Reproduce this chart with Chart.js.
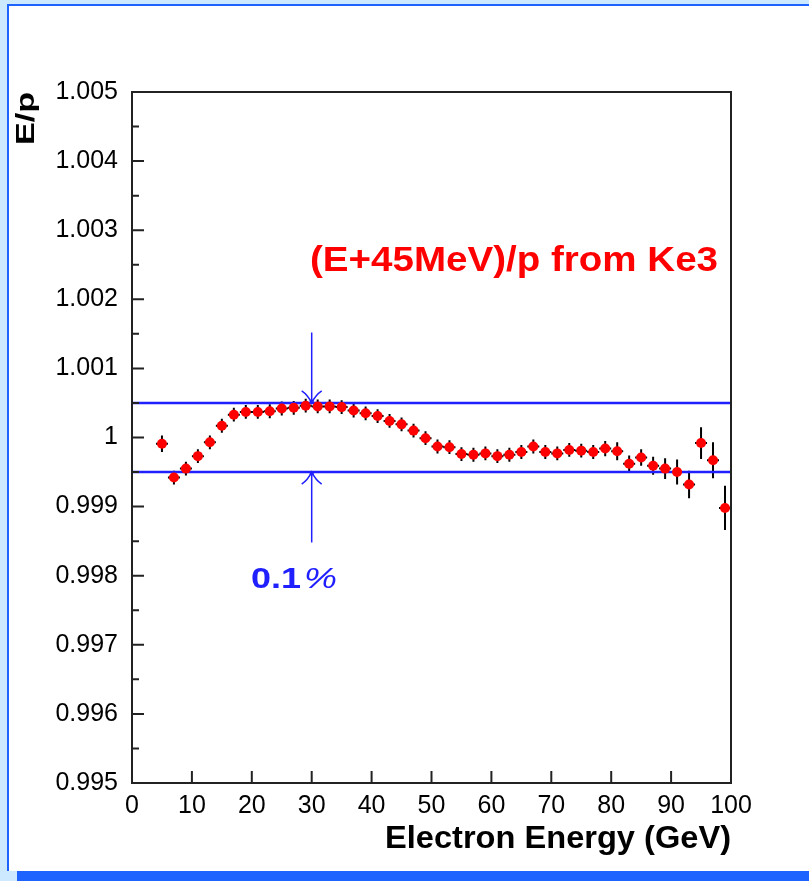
<!DOCTYPE html>
<html>
<head>
<meta charset="utf-8">
<title>E/p vs Electron Energy</title>
<script src="https://cdn.jsdelivr.net/npm/chart.js@4.4.1/dist/chart.umd.min.js"></script>
<style>
  body { margin: 0; background: #cde9ff; width: 809px; height: 881px; overflow: hidden; position: relative; }
  #panel { position: absolute; left: 7px; top: 4px; width: 802px; height: 867px; background: #fff;
           border-left: 2px solid #1f63ff; border-top: 2px solid #1f63ff; box-sizing: border-box; }
  #bar { position: absolute; left: 17px; top: 871px; right: 0; height: 10px; background: #1f63ff; }
  canvas { position: absolute; left: 0; top: 0; }
</style>
</head>
<body>
<div id="panel"></div>
<div id="bar"></div>
<canvas id="epChart" width="809" height="881"></canvas>
<script>
// electron energy bin centres (GeV), bins are 2 GeV wide
const energy = [5, 7, 9, 11, 13, 15, 17, 19, 21, 23, 25, 27, 29, 31, 33, 35, 37, 39, 41, 43,
                45, 47, 49, 51, 53, 55, 57, 59, 61, 63, 65, 67, 69, 71, 73, 75, 77, 79, 81, 83,
                85, 87, 89, 91, 93, 95, 97, 99];
const binHalf = 1;

// (E+45MeV)/p values
const ratio = [0.99991, 0.99942, 0.99955, 0.99973, 0.99993, 1.00017, 1.00033, 1.00037, 1.00037, 1.00038,
               1.00042, 1.00043, 1.00046, 1.00045, 1.00045, 1.00044, 1.00039, 1.00035, 1.00031, 1.00024,
               1.00019, 1.00010, 0.99999, 0.99987, 0.99986, 0.99976, 0.99975, 0.99977, 0.99973, 0.99975,
               0.99979, 0.99987, 0.99979, 0.99977, 0.99982, 0.99981, 0.99979, 0.99984, 0.99980, 0.99962,
               0.99971, 0.99959, 0.99955, 0.99950, 0.99932, 0.99992, 0.99967, 0.99898];

// vertical error on each point
const ratioErr = [0.00012, 0.0001, 0.0001, 0.0001, 0.0001, 0.0001, 0.0001, 0.0001, 0.0001, 0.0001,
                  0.0001, 0.0001, 0.0001, 0.0001, 0.0001, 0.0001, 0.0001, 0.0001, 0.0001, 0.0001,
                  0.0001, 0.0001, 0.0001, 0.0001, 0.0001, 0.0001, 0.0001, 0.0001, 0.0001, 0.0001,
                  0.0001, 0.0001, 0.0001, 0.0001, 0.0001, 0.0001, 0.0001, 0.00011, 0.00013, 0.00012,
                  0.00012, 0.00013, 0.00015, 0.00018, 0.0002, 0.00023, 0.00026, 0.00032];

// +-0.05% band and the arrows marking it
const bandHigh = 1.0005;
const bandLow = 0.9995;
const arrowX = 30;
const arrowTop = 1.00152;
const arrowBottom = 0.99848;

const xTicks = [0, 10, 20, 30, 40, 50, 60, 70, 80, 90, 100];
const yMin = 0.995, yMax = 1.005;

const blue = '#2020ff';
const red = '#ff0000';

// draw text squeezed/stretched to a given width (ROOT fonts are wider than Arial)
function fitText(ctx, text, x, y, font, width, color) {
    ctx.save();
    ctx.font = font;
    ctx.fillStyle = color;
    ctx.textBaseline = 'alphabetic';
    ctx.textAlign = 'left';
    const w = ctx.measureText(text).width;
    ctx.translate(x, y);
    ctx.scale(width / w, 1);
    ctx.fillText(text, 0, 0);
    ctx.restore();
}

const errorBars = {
    id: 'errorBars',
    beforeDatasetsDraw(chart) {
        const { ctx, scales: { x, y } } = chart;
        ctx.save();
        ctx.strokeStyle = '#000';
        ctx.lineWidth = 2;
        ctx.beginPath();
        for (let i = 0; i < energy.length; i++) {
            const px = x.getPixelForValue(energy[i]);
            const py = y.getPixelForValue(ratio[i]);
            ctx.moveTo(px, y.getPixelForValue(ratio[i] + ratioErr[i]));
            ctx.lineTo(px, y.getPixelForValue(ratio[i] - ratioErr[i]));
            ctx.moveTo(x.getPixelForValue(energy[i] - binHalf), py);
            ctx.lineTo(x.getPixelForValue(energy[i] + binHalf), py);
        }
        ctx.stroke();
        ctx.restore();
    }
};

const rootFrame = {
    id: 'rootFrame',
    afterDraw(chart) {
        const { ctx, chartArea: a, scales: { x, y } } = chart;
        ctx.save();

        // frame
        ctx.strokeStyle = '#222';
        ctx.lineWidth = 2;
        ctx.strokeRect(a.left, a.top, a.right - a.left, a.bottom - a.top);

        // inward ticks, major every 0.001 and a minor one between
        ctx.beginPath();
        for (let k = 1; k < 20; k++) {
            const v = yMin + k * 0.0005;
            const py = y.getPixelForValue(v);
            ctx.moveTo(a.left, py);
            ctx.lineTo(a.left + (k % 2 === 0 ? 12 : 7), py);
        }
        xTicks.slice(1, -1).forEach(t => {
            const px = x.getPixelForValue(t);
            ctx.moveTo(px, a.bottom);
            ctx.lineTo(px, a.bottom - 12);
        });
        ctx.stroke();

        // arrows at 30 GeV pointing at the band
        const ax = x.getPixelForValue(arrowX);
        const hi = y.getPixelForValue(bandHigh);
        const lo = y.getPixelForValue(bandLow);
        ctx.strokeStyle = blue;
        ctx.lineWidth = 1.5;
        ctx.beginPath();
        ctx.moveTo(ax, y.getPixelForValue(arrowTop));
        ctx.lineTo(ax, hi);
        ctx.moveTo(ax - 10, hi - 12);
        ctx.quadraticCurveTo(ax - 4, hi - 8, ax, hi);
        ctx.quadraticCurveTo(ax + 4, hi - 8, ax + 10, hi - 12);
        ctx.moveTo(ax, y.getPixelForValue(arrowBottom));
        ctx.lineTo(ax, lo);
        ctx.moveTo(ax - 10, lo + 12);
        ctx.quadraticCurveTo(ax - 4, lo + 8, ax, lo);
        ctx.quadraticCurveTo(ax + 4, lo + 8, ax + 10, lo + 12);
        ctx.stroke();
        ctx.fillStyle = blue;
        ctx.fillRect(ax - 2, hi - 3, 4, 4);
        ctx.fillRect(ax - 2, lo - 1, 4, 4);

        // labels
        fitText(ctx, '(E+45MeV)/p from Ke3', 310, 271, 'bold 35px "Liberation Sans", Arial', 408, red);
        fitText(ctx, '0.1', 251, 588, 'bold 29px "Liberation Sans", Arial', 50, blue);
        fitText(ctx, '%', 304, 588, 'italic 29px "Liberation Sans", Arial', 33, blue);
        fitText(ctx, 'Electron Energy (GeV)', 385, 848, 'bold 32px "Liberation Sans", Arial', 346, '#000');

        ctx.save();
        ctx.translate(34, 145);
        ctx.rotate(-Math.PI / 2);
        fitText(ctx, 'E/p', 0, 0, 'bold 25px "Liberation Sans", Arial', 53, '#000');
        ctx.restore();

        ctx.restore();
    }
};

const points = energy.map((e, i) => ({ x: e, y: ratio[i] }));

new Chart(document.getElementById('epChart'), {
    type: 'scatter',
    data: {
        datasets: [
            {
                label: '(E+45MeV)/p',
                data: points,
                backgroundColor: red,
                borderWidth: 0,
                pointRadius: 5,
                pointHoverRadius: 5
            },
            {
                label: 'upper',
                data: [{ x: 0, y: bandHigh }, { x: 100, y: bandHigh }],
                showLine: true,
                borderColor: blue,
                borderWidth: 2.5,
                pointRadius: 0
            },
            {
                label: 'lower',
                data: [{ x: 0, y: bandLow }, { x: 100, y: bandLow }],
                showLine: true,
                borderColor: blue,
                borderWidth: 2.5,
                pointRadius: 0
            }
        ]
    },
    options: {
        responsive: false,
        animation: false,
        events: [],
        layout: { padding: { top: 92, right: 78, left: 0, bottom: 0 } },
        plugins: {
            legend: { display: false },
            tooltip: { enabled: false }
        },
        scales: {
            x: {
                type: 'linear',
                min: 0,
                max: 100,
                afterFit: s => { s.height = 98; },
                afterBuildTicks: s => { s.ticks = xTicks.map(v => ({ value: v })); },
                grid: { display: false, drawTicks: false },
                border: { display: false },
                ticks: {
                    color: '#000',
                    padding: 8,
                    maxRotation: 0,
                    font: { family: '"Liberation Sans", Arial', size: 25 }
                }
            },
            y: {
                type: 'linear',
                min: yMin,
                max: yMax,
                afterFit: s => { s.width = 132; },
                grid: { display: false, drawTicks: false },
                border: { display: false },
                ticks: {
                    stepSize: 0.001,
                    color: '#000',
                    padding: 14,
                    font: { family: '"Liberation Sans", Arial', size: 25 },
                    callback: v => String(+v.toFixed(3))
                }
            }
        }
    },
    plugins: [errorBars, rootFrame]
});
</script>
</body>
</html>
